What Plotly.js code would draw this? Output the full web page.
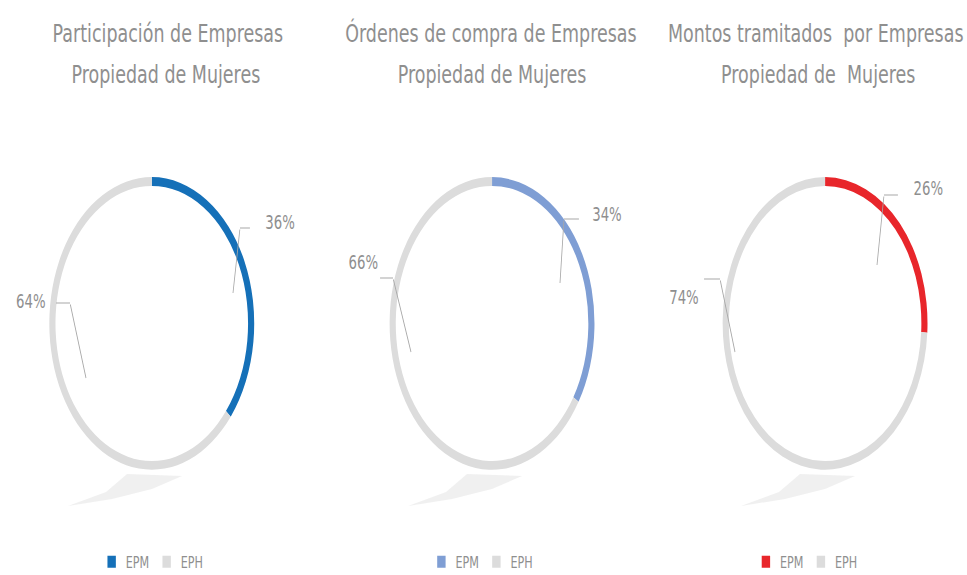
<!DOCTYPE html>
<html>
<head>
<meta charset="utf-8">
<script src="https://cdn.plot.ly/plotly-3.0.1.min.js"></script>
<style>
html,body{margin:0;padding:0;background:#fff;overflow:hidden;width:967px;height:575px;}
#chart{width:1381px;height:575px;transform:scaleX(0.7);transform-origin:0 0;}
</style>
</head>
<body>
<div id="chart"></div>
<script>
// ---- data ----
const titleLine1 = ["Participación de Empresas", "Órdenes de compra de Empresas", "Montos tramitados  por Empresas"];
const titleLine2 = ["Propiedad de Mujeres", "Propiedad de Mujeres", "Propiedad de  Mujeres"];
const sliceLabels = ["EPM", "EPH"];
const epmValues = [36, 34, 26];
const ephValues = [64, 66, 74];
const epmColors = ["#1570b8", "#7f9ed4", "#e8262b"];
const ephColor = "#dcdcdc";

// ---- layout helpers (positions/styles) ----
const SX = 0.7;               // horizontal squeeze applied by CSS
const W = 1381, H = 575;
const domainsX = [[0.051, 0.263], [0.403, 0.615], [0.747, 0.960]];
const domainY = [0.183, 0.692];
const legendIds = ["legend", "legend2", "legend3"];
const legendX = [0.1575, 0.4986, 0.8343];
const titleX1 = [0.1738, 0.5079, 0.8441];
const titleX2 = [0.1717, 0.5089, 0.8462];
const ringCenterPx = [152, 492, 825]; // screen px, for the floor shadow
const shadowOffsets = [[-25, 474], [30, 476], [0, 489], [-40, 499], [-84, 506], [-46, 492]];
// label geometry in screen px: [textX, textY, stubStartX, stubY, elbowX, elbowY, tipX, tipY]
const labelGeo = [
  [[280, 222, 251, 228, 240, 228, 233, 293], [31, 301, 55, 303, 70, 303, 86, 378]],
  [[607, 214, 580, 219, 564, 219, 560, 283], [363, 262, 379, 278, 393, 278, 411, 352]],
  [[928, 188, 899, 195, 884, 195, 877, 265], [684, 297, 703, 279, 720, 279, 735, 352]]
];

const font = "DejaVu Sans, Open Sans, sans-serif";
const textGray = "#8f8f8f";
const leaderGray = "#a8a8a8";
const px2x = function (sx) { return (sx / SX) / W; };
const py2y = function (sy) { return 1 - sy / H; };

const traces = [];
const annotations = [];
const shapes = [];
const layout = {
  width: W, height: H,
  margin: {l: 0, r: 0, t: 0, b: 0, autoexpand: false},
  paper_bgcolor: "#ffffff",
  plot_bgcolor: "#ffffff",
  showlegend: true,
  annotations: annotations,
  shapes: shapes
};

function leader(x0, y0, x1, y1) {
  annotations.push({
    xref: "paper", yref: "paper", x: px2x(x1), y: py2y(y1),
    ax: (x0 - x1) / SX, ay: (y0 - y1),
    text: "", showarrow: true, arrowhead: 0, arrowwidth: 1.2,
    arrowcolor: leaderGray, standoff: 0, startstandoff: 0
  });
}

for (let i = 0; i < 3; i++) {
  let p = "";
  shadowOffsets.forEach(function (o, j) {
    p += (j === 0 ? "M" : "L") + px2x(ringCenterPx[i] + o[0]).toFixed(4) + "," + py2y(o[1]).toFixed(4) + " ";
  });
  shapes.push({
    type: "path", xref: "paper", yref: "paper", layer: "below",
    path: p + "Z", fillcolor: "rgba(228,228,228,0.55)", line: {width: 0}
  });
  traces.push({
    type: "pie",
    labels: sliceLabels,
    values: [epmValues[i], ephValues[i]],
    marker: {colors: [epmColors[i], ephColor], line: {width: 0}},
    hole: 0.94,
    sort: false,
    direction: "clockwise",
    rotation: 0,
    textinfo: "none",
    hoverinfo: "label+percent",
    domain: {x: domainsX[i], y: domainY},
    legend: legendIds[i],
    legendgroup: "g" + i
  });
  layout[legendIds[i]] = {
    orientation: "h",
    traceorder: "normal",
    x: legendX[i], xanchor: "center",
    y: 0.023, yanchor: "middle",
    font: {family: font, size: 16, color: textGray},
    bgcolor: "rgba(0,0,0,0)",
    itemwidth: 30
  };
  annotations.push({
    xref: "paper", yref: "paper", x: titleX1[i], y: 1 - 33 / H,
    text: titleLine1[i], showarrow: false, xanchor: "center", yanchor: "middle",
    font: {family: font, size: 25, color: textGray}
  });
  annotations.push({
    xref: "paper", yref: "paper", x: titleX2[i], y: 1 - 74 / H,
    text: titleLine2[i], showarrow: false, xanchor: "center", yanchor: "middle",
    font: {family: font, size: 25, color: textGray}
  });
  const vals = [epmValues[i], ephValues[i]];
  const tot = vals[0] + vals[1];
  for (let k = 0; k < 2; k++) {
    const g = labelGeo[i][k];
    annotations.push({
      xref: "paper", yref: "paper", x: px2x(g[0]), y: py2y(g[1]),
      text: Math.round(vals[k] / tot * 100) + "%",
      showarrow: false, xanchor: "center", yanchor: "middle",
      font: {family: font, size: 19, color: textGray}
    });
    leader(g[2], g[3], g[4], g[5]);
    leader(g[4], g[5], g[6], g[7]);
  }
}

Plotly.newPlot("chart", traces, layout, {displayModeBar: false, staticPlot: true});
</script>
</body>
</html>
